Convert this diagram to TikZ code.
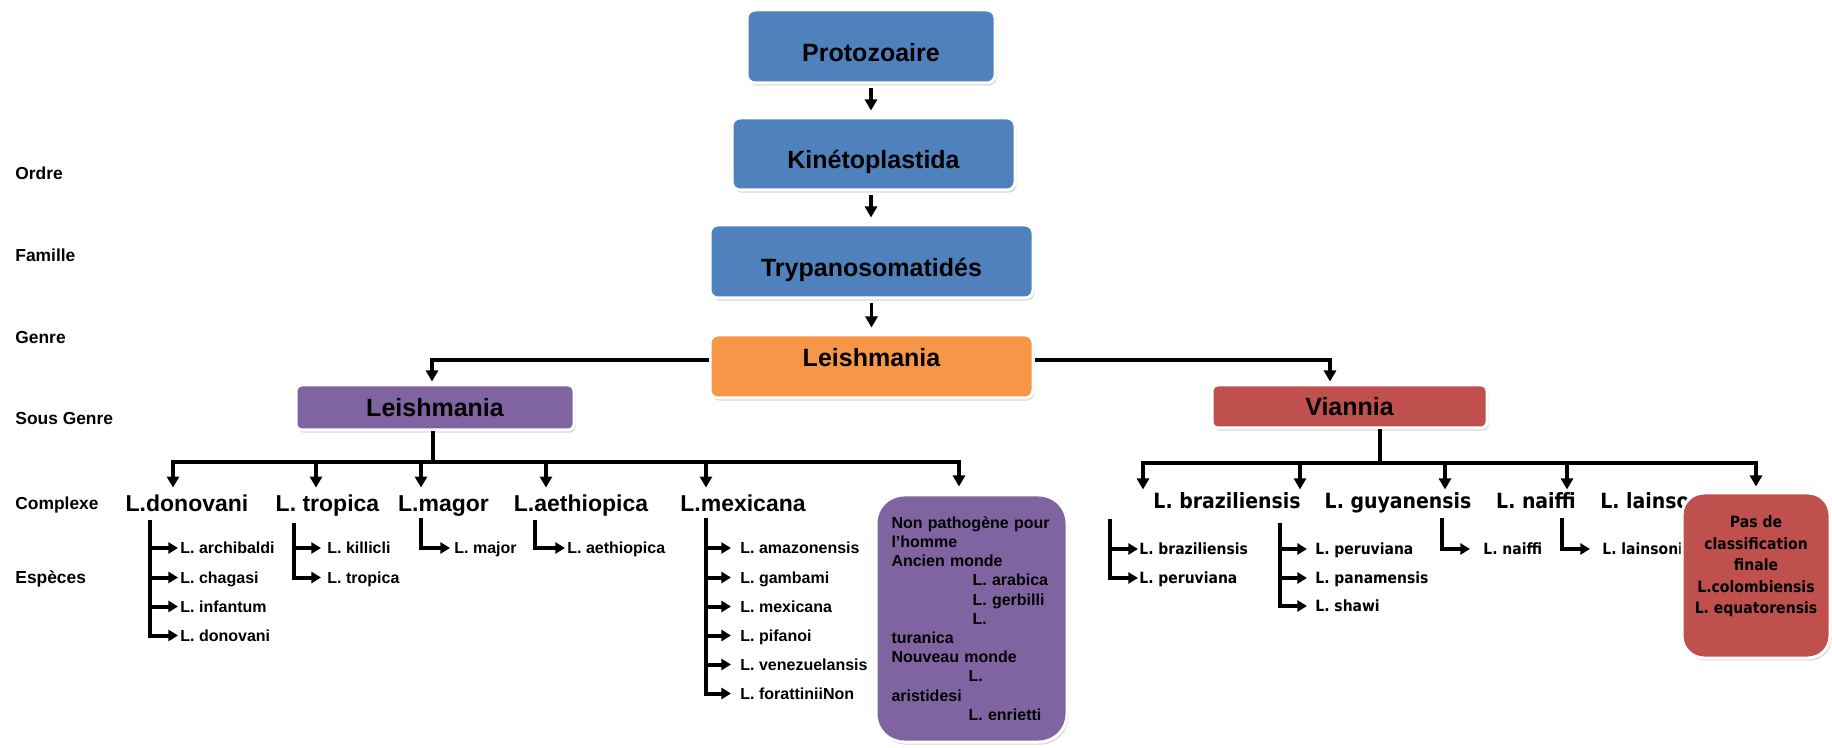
\documentclass[tikz,border=0pt]{standalone}
\usepackage{fontspec}
\setmainfont{Liberation Sans}
\newfontfamily\condfont[FakeStretch=0.9]{DejaVu Sans}
\usetikzlibrary{arrows.meta,shadows}
\definecolor{cblue}{RGB}{79,129,189}
\definecolor{corange}{RGB}{247,150,70}
\definecolor{cpurple}{RGB}{128,100,162}
\definecolor{cred}{RGB}{192,80,77}
\tikzset{
  box/.style={rectangle, rounded corners=4pt, draw=white, line width=1.5pt,
    drop shadow={shadow xshift=0.8pt, shadow yshift=-1.3pt, fill=black!30},
    inner sep=0pt, font=\bfseries\fontsize{12.5}{15}\selectfont},
  bluebox/.style={box, fill=cblue, text height=14.95pt, text depth=0pt},
  orangebox/.style={box, fill=corange, text height=8.95pt, text depth=9pt},
  purplebox/.style={box, fill=cpurple, rounded corners=3pt, text height=8.95pt, text depth=0pt},
  redbox/.style={box, fill=cred, rounded corners=3pt, text height=8.95pt, text depth=0pt},
  nonpathbox/.style={box, fill=cpurple, rounded corners=14pt, align=left, text width=80pt,
    font=\bfseries\fontsize{8}{9.6}\selectfont},
  pasbox/.style={box, fill=cred, rounded corners=11pt,
    font=\condfont\bfseries\fontsize{7.8}{10.75}\selectfont},
  rowlbl/.style={anchor=west, inner sep=0pt, font=\bfseries\fontsize{8.7}{10}\selectfont, text height=6.2pt, text depth=0pt},
  lcx/.style={inner sep=0pt, font=\bfseries\fontsize{11.5}{13}\selectfont, text height=8.2pt, text depth=0pt},
  lsp/.style={anchor=west, inner sep=0pt, font=\bfseries\fontsize{8}{9.6}\selectfont, text height=5.7pt, text depth=0pt},
  rcx/.style={inner sep=0pt, font=\condfont\bfseries\fontsize{10.5}{12}\selectfont, text height=7.65pt, text depth=0pt},
  rsp/.style={anchor=west, inner sep=0pt, font=\condfont\bfseries\fontsize{7.75}{9}\selectfont, text height=5.65pt, text depth=0pt},
  mline/.style={line width=1.6pt},
  marrow/.style={mline, -{Triangle[length=5.5pt,width=6pt]}},
  sarrow/.style={line width=2pt, -{Triangle[length=4.8pt,width=5.5pt]}},
}
\begin{document}
\begin{tikzpicture}[x=0.5pt,y=-0.5pt]
\useasboundingbox (0,0) rectangle (1832,748);

% main chain
\node[bluebox, minimum width=124pt, minimum height=36.5pt] (proto) at (871,46.5) {Protozoaire};
\node[bluebox, minimum width=141.5pt, minimum height=36pt] (kin) at (873.5,154) {Kinétoplastida};
\node[bluebox, minimum width=161.5pt, minimum height=36.5pt] (tryp) at (871.5,261.5) {Trypanosomatidés};
\node[orangebox, minimum width=161.5pt, minimum height=31.5pt] (leish) at (871.5,366.5) {Leishmania};
\node[purplebox, minimum width=139pt, minimum height=22.5pt] (sgL) at (435,407.5) {Leishmania};
\node[redbox, minimum width=137.5pt, minimum height=21.5pt] (vian) at (1349.5,406.5) {Viannia};

% row labels
\node[rowlbl] (r1) at (15,173) {Ordre};
\node[rowlbl] (r2) at (15,255) {Famille};
\node[rowlbl] (r3) at (15,337) {Genre};
\node[rowlbl] (r4) at (15,418) {Sous Genre};
\node[rowlbl] (r5) at (15,503) {Complexe};
\node[rowlbl] (r6) at (15,577) {Espèces};

% left complexes
\node[lcx] (cdon) at (187,503) {L.donovani};
\node[lcx] (ctrop) at (327.5,503) {L. tropica};
\node[lcx] (cmag) at (443.5,503) {L.magor};
\node[lcx] (caeth) at (581,503) {L.aethiopica};
\node[lcx] (cmex) at (743,503) {L.mexicana};
\node[nonpathbox, minimum width=95.5pt, minimum height=123.5pt] (nonpath) at (971.5,618.5)
 {Non pathogène pour\\
  l’homme\\
  Ancien monde\\
  \hspace*{40.5pt}L. arabica\\
  \hspace*{40.5pt}L. gerbilli\\
  \hspace*{40.5pt}L.\\
  turanica\\
  Nouveau monde\\
  \hspace*{38.5pt}L.\\
  aristidesi\\
  \hspace*{38.5pt}L. enrietti};

% right complexes
\node[rcx] (cbraz) at (1227,500.5) {L. braziliensis};
\node[rcx] (cguy) at (1398,500.5) {L. guyanensis};
\node[rcx] (cnaif) at (1536,500.5) {L. naiffi};
\node[rcx, anchor=west] (clains) at (1600,500.5) {L. lainsoni};

% left species
\node[lsp] (s-arch) at (180,548) {L. archibaldi};
\node[lsp] (s-chag) at (180,577.5) {L. chagasi};
\node[lsp] (s-inf) at (180,606.5) {L. infantum};
\node[lsp] (s-ldon) at (180,635.5) {L. donovani};
\node[lsp] (s-kil) at (327,548) {L. killicli};
\node[lsp] (s-ltrop) at (327,577.5) {L. tropica};
\node[lsp] (s-maj) at (454,548) {L. major};
\node[lsp] (s-aeth) at (567,548) {L. aethiopica};
\node[lsp] (s-amaz) at (740,548) {L. amazonensis};
\node[lsp] (s-gamb) at (740,577.5) {L. gambami};
\node[lsp] (s-lmex) at (740,606.5) {L. mexicana};
\node[lsp] (s-pif) at (740,635.5) {L. pifanoi};
\node[lsp] (s-ven) at (740,664.5) {L. venezuelansis};
\node[lsp] (s-for) at (740,693.5) {L. forattiniiNon};

% right species
\node[rsp] (s-rbraz) at (1139,549) {L. braziliensis};
\node[rsp] (s-rper1) at (1139,578) {L. peruviana};
\node[rsp] (s-rper2) at (1315,549) {L. peruviana};
\node[rsp] (s-pan) at (1315,578) {L. panamensis};
\node[rsp] (s-shaw) at (1315,606) {L. shawi};
\node[rsp] (s-rnaif) at (1483,549) {L. naiffi};
\node[rsp] (s-rlains) at (1602,549) {L. lainsoni};

\node[pasbox, minimum width=74pt, minimum height=82.5pt] (pasde) at (1756,575.5)
 {\begin{tabular}{@{}c@{}}Pas de\\classification\\finale\\L.colombiensis\\L. equatorensis\\[9pt]\end{tabular}};

% main chain connectors
\draw[marrow, shorten <=2pt, shorten >=3pt] (proto.south) -- (proto.south |- kin.north);
\draw[marrow, shorten <=2pt, shorten >=3pt] (kin.south -| proto.south) -- (proto.south |- tryp.north);
\draw[marrow, shorten <=2pt, shorten >=3pt] (tryp.south) -- (tryp.south |- leish.north);
\draw[marrow, shorten >=1pt] ([yshift=3.25pt]leish.west) -| ([xshift=-1.5pt]sgL.north);
\draw[marrow, shorten >=1pt] ([yshift=3.25pt]leish.east) -| ([xshift=-9.75pt]vian.north);

% left subtree
\coordinate (hL) at (433,462);
\draw[mline] (sgL.south -| hL) -- (hL);
\draw[marrow, shorten >=3.4pt] (hL) -| ([xshift=-7pt]cdon.north);
\draw[marrow, shorten >=3.4pt] (hL) -| ([xshift=-5.75pt]ctrop.north);
\draw[marrow, shorten >=3.4pt] (hL) -| ([xshift=-11.25pt]cmag.north);
\draw[marrow, shorten >=3.4pt] (hL) -| ([xshift=-17.5pt]caeth.north);
\draw[marrow, shorten >=3.4pt] (hL) -| ([xshift=-18.5pt]cmex.north);
\draw[marrow, shorten >=3.5pt] (hL) -| ([xshift=-6.25pt]nonpath.north);

% right subtree
\coordinate (hV) at (1380,463);
\draw[mline] (vian.south -| hV) -- (hV);
\draw[marrow, shorten >=1.5pt] (hV) -| ([xshift=-42pt]cbraz.north);
\draw[marrow, shorten >=1.5pt] (hV) -| ([xshift=-49pt]cguy.north);
\draw[marrow, shorten >=1.5pt] (hV) -| ([xshift=-45.5pt]cnaif.north);
\draw[marrow, shorten >=1.5pt] (hV) -| ([xshift=-16.5pt]clains.north west);
\draw[marrow, shorten >=2.5pt] (hV) -| (pasde.north);

% species spines
\coordinate (k-don) at (150,520);
\coordinate (k-trop) at (294,523);
\coordinate (k-mag) at (421,518);
\coordinate (k-aeth) at (535,520);
\coordinate (k-mex) at (706,518);
\coordinate (k-braz) at (1110,519);
\coordinate (k-guy) at (1280,523);
\coordinate (k-naif) at (1442,518);
\coordinate (k-lains) at (1562,518);

\foreach \s in {s-arch,s-chag,s-inf,s-ldon}
  \draw[sarrow, shorten >=1pt] (k-don) |- (\s.west);
\foreach \s in {s-kil,s-ltrop}
  \draw[sarrow, shorten >=3pt] (k-trop) |- (\s.west);
\draw[sarrow, shorten >=2pt] (k-mag) |- (s-maj.west);
\draw[sarrow, shorten >=1pt] (k-aeth) |- (s-aeth.west);
\foreach \s in {s-amaz,s-gamb,s-lmex,s-pif,s-ven,s-for}
  \draw[sarrow, shorten >=4.5pt] (k-mex) |- (\s.west);
\foreach \s in {s-rbraz,s-rper1}
  \draw[sarrow, shorten >=0.5pt] (k-braz) |- (\s.west);
\foreach \s in {s-rper2,s-pan,s-shaw}
  \draw[sarrow, shorten >=4pt] (k-guy) |- (\s.west);
\draw[sarrow, shorten >=6.5pt] (k-naif) |- (s-rnaif.west);
\draw[sarrow, shorten >=6pt] (k-lains) |- (s-rlains.west);
\end{tikzpicture}
\end{document}
